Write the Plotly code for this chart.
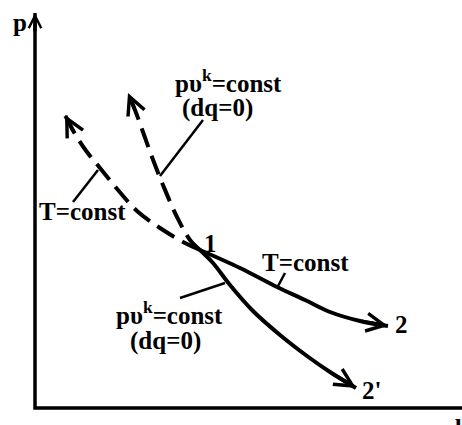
import plotly.graph_objects as go

# Curves in (v, p) units, origin at the axes corner
iso_exp_v = [165, 205, 242, 270, 295, 325, 353]
iso_exp_p = [158, 140, 121, 108, 96, 87, 82]

adi_exp_v = [165, 178, 195, 218, 245, 272, 295, 321]
adi_exp_p = [158, 145, 123, 97, 73, 52, 36, 20]

iso_cmp_v = [165, 150, 125, 102, 83, 65, 52, 40, 30]
iso_cmp_p = [158, 165, 180, 197, 218, 240, 256, 274, 293]

adi_cmp_v = [165, 155, 142, 128, 117, 108, 100, 93]
adi_cmp_p = [158, 168, 191, 223, 251, 276, 298, 315]

# Leader lines (start, end)
leader_v = [[38, 63], [168, 125], [250, 242], [145, 190]]
leader_p = [[206, 238], [288, 232], [135, 120], [110, 125]]

# Labels: text, v, p, xanchor
labels = [
    ("p", -15, 386, "center"),
    ("1", 175, 165, "center"),
    ("2", 366, 84, "center"),
    ("2'", 336, 18, "center"),
    ("T=const", 270, 146, "center"),
    ("T=const", 47, 197, "center"),
    ("pυ<sup>k</sup>=const", 138, 327, "left"),
    ("(dq=0)", 182, 300, "center"),
    ("pυ<sup>k</sup>=const", 190, 95, "right"),
    ("(dq=0)", 168, 67, "right"),
    ("υ", 426, -14, "center"),
]

axis_v = [0, 0, 427]
axis_p = [395, 0, 0]

fig = go.Figure()

fig.add_trace(go.Scatter(x=axis_v, y=axis_p, mode="lines",
                         line=dict(color="black", width=3.5), hoverinfo="skip"))

for xs, ys, dash in [(iso_exp_v, iso_exp_p, "solid"), (adi_exp_v, adi_exp_p, "solid"),
                     (iso_cmp_v, iso_cmp_p, "20px,9px"), (adi_cmp_v, adi_cmp_p, "20px,9px")]:
    fig.add_trace(go.Scatter(x=xs, y=ys, mode="lines",
                             line=dict(color="black", width=4, dash=dash, shape="spline", smoothing=1),
                             hoverinfo="skip"))
    fig.add_annotation(x=xs[-1], y=ys[-1], ax=xs[-2], ay=ys[-2], xref="x", yref="y",
                       axref="x", ayref="y", showarrow=True, arrowhead=5, arrowsize=1.0,
                       arrowwidth=3.5, arrowcolor="black", text="")

lx, ly = [], []
for a, b in zip(leader_v, leader_p):
    lx += a + [None]
    ly += b + [None]
fig.add_trace(go.Scatter(x=lx, y=ly, mode="lines", line=dict(color="black", width=2.5),
                         hoverinfo="skip"))

# y-axis arrow head
fig.add_annotation(x=axis_v[0], y=axis_p[0], ax=axis_v[1], ay=axis_p[0] - 20, xref="x", yref="y",
                   axref="x", ayref="y", showarrow=True, arrowhead=5, arrowsize=0.7,
                   arrowwidth=3.5, arrowcolor="black", text="")

for t, x, y, xa in labels:
    fig.add_annotation(x=x, y=y, text="<b>" + t + "</b>", showarrow=False, xanchor=xa,
                       yanchor="middle",
                       font=dict(family="Liberation Serif", size=25, color="black"))

fig.update_layout(width=462, height=425, margin=dict(l=0, r=0, t=0, b=0),
                  paper_bgcolor="white", plot_bgcolor="white", showlegend=False,
                  xaxis=dict(range=[-35, 427], visible=False, fixedrange=True),
                  yaxis=dict(range=[-17, 408], visible=False, fixedrange=True))

fig.write_html("out.html", config={"displayModeBar": False},
               post_script="document.body.style.margin='0';document.body.style.overflow='hidden';")
